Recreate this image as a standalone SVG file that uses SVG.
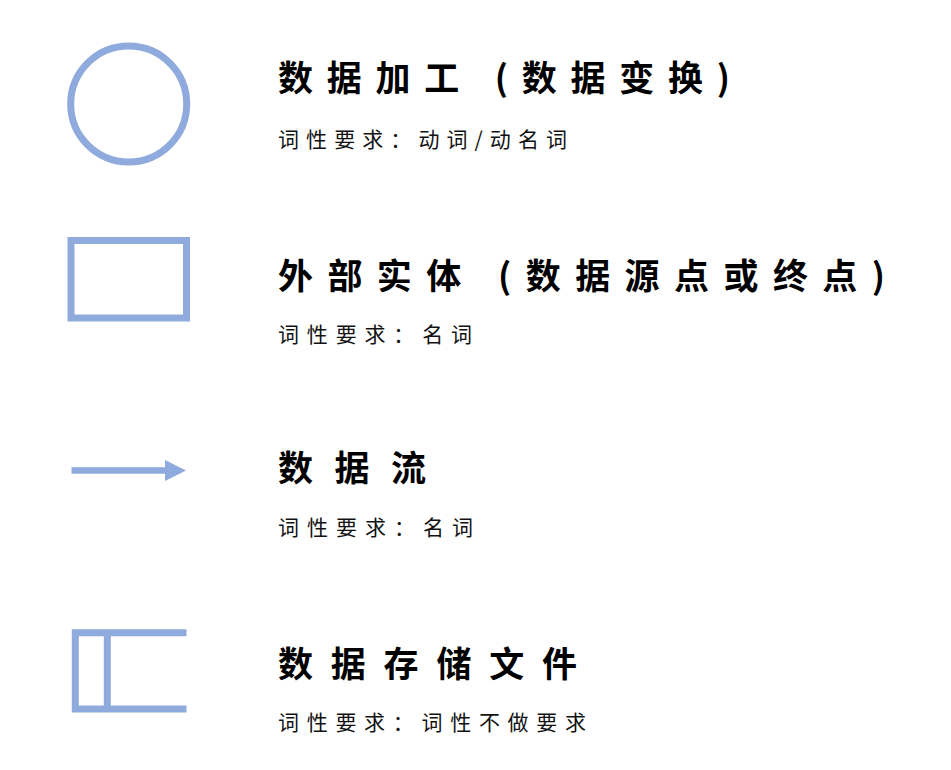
<svg xmlns="http://www.w3.org/2000/svg" width="951" height="770" viewBox="0 0 951 770">
<style>
.shape{fill:none;stroke:#8faadc;stroke-width:7}
.title{font-family:"Noto Sans CJK SC","Noto Sans CJK JP",sans-serif;font-size:35px;font-weight:700;fill:#000}
.sub{font-family:"Noto Sans CJK SC","Noto Sans CJK JP",sans-serif;font-size:21px;font-weight:400;fill:#111}
</style>
<defs>
<marker id="ah" markerUnits="userSpaceOnUse" markerWidth="22" markerHeight="22" refX="21" refY="11" orient="auto">
<path d="M0,0 L21,11 L0,22 Z" fill="#8faadc"/>
</marker>
</defs>
<rect width="951" height="770" fill="#fff"/>
<g id="process">
<circle class="shape" cx="128.7" cy="104" r="58"/>
<text class="title" x="278" y="91" textLength="452" lengthAdjust="spacing">数据加工 (数据变换)</text>
<text class="sub" x="278" y="147" textLength="289" lengthAdjust="spacing">词性要求：动词/动名词</text>
</g>
<g id="entity">
<rect class="shape" x="71" y="240.5" width="115.5" height="77.5"/>
<text class="title" x="278" y="289" textLength="607" lengthAdjust="spacing">外部实体 (数据源点或终点)</text>
<text class="sub" x="278" y="342" textLength="194" lengthAdjust="spacing">词性要求：名词</text>
</g>
<g id="connectors">
<line x1="71.5" y1="470.5" x2="166" y2="470.5" stroke="#8faadc" stroke-width="6.5"/>
<path d="M165,460 L186,470.5 L165,481 Z" fill="#8faadc"/>
</g>
<g id="flow">
<text class="title" x="278" y="481" textLength="148" lengthAdjust="spacing">数据流</text>
<text class="sub" x="278" y="535" textLength="195" lengthAdjust="spacing">词性要求：名词</text>
</g>
<g id="store">
<path class="shape" d="M186.5,632.7 H75.3 V709 H186.5"/>
<line class="shape" x1="107.3" y1="632.7" x2="107.3" y2="709"/>
<text class="title" x="278" y="677" textLength="299" lengthAdjust="spacing">数据存储文件</text>
<text class="sub" x="278" y="730" textLength="308" lengthAdjust="spacing">词性要求：词性不做要求</text>
</g>
</svg>
